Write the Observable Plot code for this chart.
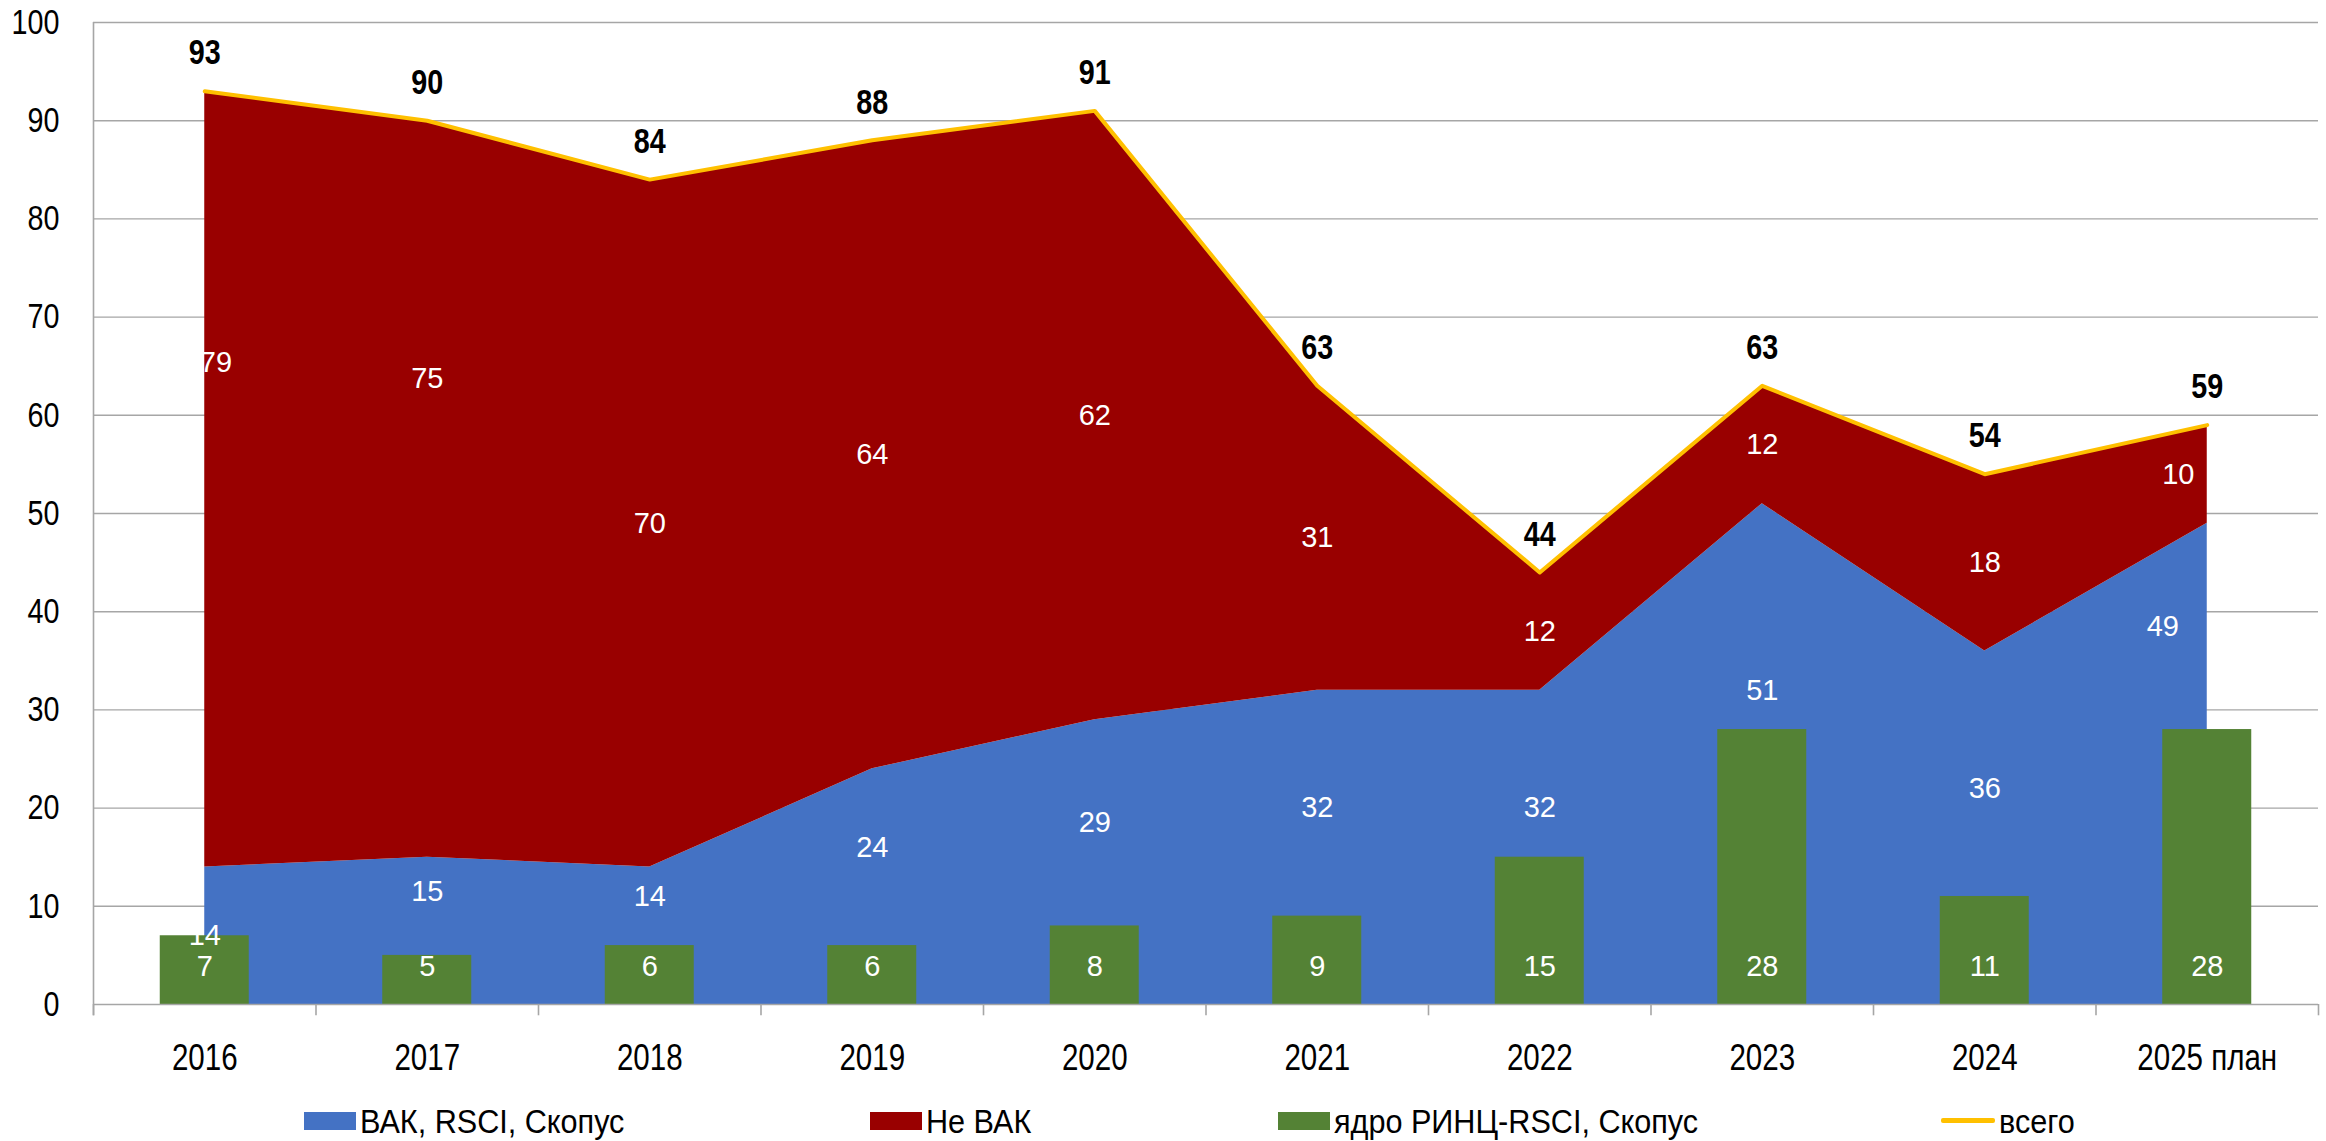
<!DOCTYPE html>
<html>
<head>
<meta charset="utf-8">
<script src="https://cdn.jsdelivr.net/npm/d3@7"></script>
<script src="https://cdn.jsdelivr.net/npm/@observablehq/plot@0.6"></script>
<style>
  html, body { margin: 0; padding: 0; background: #fff; overflow: hidden; }
  body { width: 2326px; height: 1141px; font-family: "Liberation Sans", Arial, sans-serif; }
  #legend { position: relative; width: 2326px; height: 51px; }
  .li { position: absolute; top: 0; height: 51px; }
  .sw { position: absolute; top: 22px; width: 52px; height: 18px; }
  .ln { position: absolute; top: 28px; width: 54px; height: 5px; border-radius: 2px; }
  .lt { position: absolute; top: 12px; font-size: 34px; line-height: 38px; color: #000; white-space: nowrap; transform: scaleX(0.9); transform-origin: left center; }
</style>
</head>
<body>
<div id="chart"></div>
<div id="legend"></div>
<script>
// ---- data ----
const categories = ["2016", "2017", "2018", "2019", "2020", "2021", "2022", "2023", "2024", "2025 план"];
const vak   = [14, 15, 14, 24, 29, 32, 32, 51, 36, 49];   // ВАК, RSCI, Скопус
const neVak = [79, 75, 70, 64, 62, 31, 12, 12, 18, 10];   // Не ВАК
const core  = [7, 5, 6, 6, 8, 9, 15, 28, 11, 28];         // ядро РИНЦ-RSCI, Скопус
const total = [93, 90, 84, 88, 91, 63, 44, 63, 54, 59];   // всего
const yTicks = [0, 10, 20, 30, 40, 50, 60, 70, 80, 90, 100];
const seriesNames = ["ВАК, RSCI, Скопус", "Не ВАК", "ядро РИНЦ-RSCI, Скопус", "всего"];
const colors = ["#4472C4", "#990000", "#548235", "#FFC000"];

const n = categories.length;
const rows = categories.map((c, i) => ({
  i, c, vak: vak[i], neVak: neVak[i], core: core[i], total: total[i]
}));
const bounds = d3.range(-0.5, n, 1);
const grid = "#A6A6A6";

// label placement rules (derived from the series values)
const redLabelY = d => d.i < 2 ? d.vak + 0.65 * d.neVak : (d.vak + d.total) / 2;
const blueLabelY = d => d.i === 0 ? d.vak / 2 : d.i === n - 1 ? (d.core + d.vak) / 2 : Math.max(d.vak / 2, d.core) + 4;
const redLabelX = d => d.i === 0 ? d.i + 0.05 : d.i === n - 1 ? d.i - 0.13 : d.i;
const blueLabelX = d => d.i === n - 1 ? d.i - 0.2 : d.i;

const chart = Plot.plot({
  width: 2326,
  height: 1090,
  marginLeft: 93,
  marginRight: 8,
  marginTop: 22,
  marginBottom: 86,
  style: { fontFamily: "'Liberation Sans', Arial, sans-serif", background: "#fff", overflow: "visible" },
  x: { type: "linear", domain: [-0.5, n - 0.5], axis: null },
  y: { domain: [0, 100], axis: null },
  marks: [
    Plot.ruleY(yTicks.filter(d => d > 0), { x1: -0.5, x2: n - 0.5, stroke: grid, strokeWidth: 1.4 }),
    Plot.areaY(rows, { x: "i", y1: 0, y2: "vak", fill: colors[0] }),
    Plot.areaY(rows, { x: "i", y1: "vak", y2: "total", fill: colors[1] }),
    Plot.rectY(rows, { x1: d => d.i - 0.2, x2: d => d.i + 0.2, y1: 0, y2: "core", fill: colors[2] }),
    Plot.lineY(rows, { x: "i", y: "total", stroke: colors[3], strokeWidth: 4 }),
    // axes
    Plot.ruleY([0], { x1: -0.5, x2: n - 0.5, stroke: grid, strokeWidth: 1.6 }),
    Plot.ruleX([-0.5], { y1: -1.15, y2: 100, stroke: grid, strokeWidth: 1.6 }),
    Plot.ruleX(bounds, { y1: -1.15, y2: 0, stroke: grid, strokeWidth: 1.6 }),
    Plot.text(yTicks, { x: -0.5, y: d => d, text: d => String(d), textAnchor: "end", dx: -34, fontSize: 35, fill: "#000" }),
    Plot.text(rows, { x: "i", y: 0, text: "c", dy: 54, fontSize: 36, fill: "#000" }),
    // value labels
    Plot.text(rows, { x: redLabelX, y: redLabelY, text: d => String(d.neVak), fontSize: 29, fill: "white" }),
    Plot.text(rows, { x: blueLabelX, y: blueLabelY, text: d => String(d.vak), fontSize: 29, fill: "white" }),
    Plot.text(rows, { x: "i", y: 0, dy: -38, text: d => String(d.core), fontSize: 29, fill: "white" }),
    Plot.text(rows, { x: "i", y: "total", dy: -38, text: d => String(d.total), fontSize: 35, fontWeight: "bold", fill: "#000" })
  ]
});
document.getElementById("chart").appendChild(chart);

// narrow the black lettering like the reference
chart.querySelectorAll("text").forEach(el => {
  const g = el.closest("g");
  if (g && g.getAttribute("fill") === "white") return;
  const L = el.getComputedTextLength();
  if (L > 0) {
    el.setAttribute("textLength", (L * 0.82).toFixed(2));
    el.setAttribute("lengthAdjust", "spacingAndGlyphs");
  }
});

// legend
const legendX = [304, 870, 1278, 1941];
const legend = document.getElementById("legend");
seriesNames.forEach((name, k) => {
  const item = document.createElement("div");
  item.className = "li";
  item.style.left = legendX[k] + "px";
  const sw = document.createElement("div");
  sw.className = k === 3 ? "ln" : "sw";
  sw.style.left = "0px";
  sw.style.background = colors[k];
  const t = document.createElement("div");
  t.className = "lt";
  t.style.left = (k === 3 ? 58 : 56) + "px";
  t.textContent = name;
  item.appendChild(sw);
  item.appendChild(t);
  legend.appendChild(item);
});
</script>
</body>
</html>
